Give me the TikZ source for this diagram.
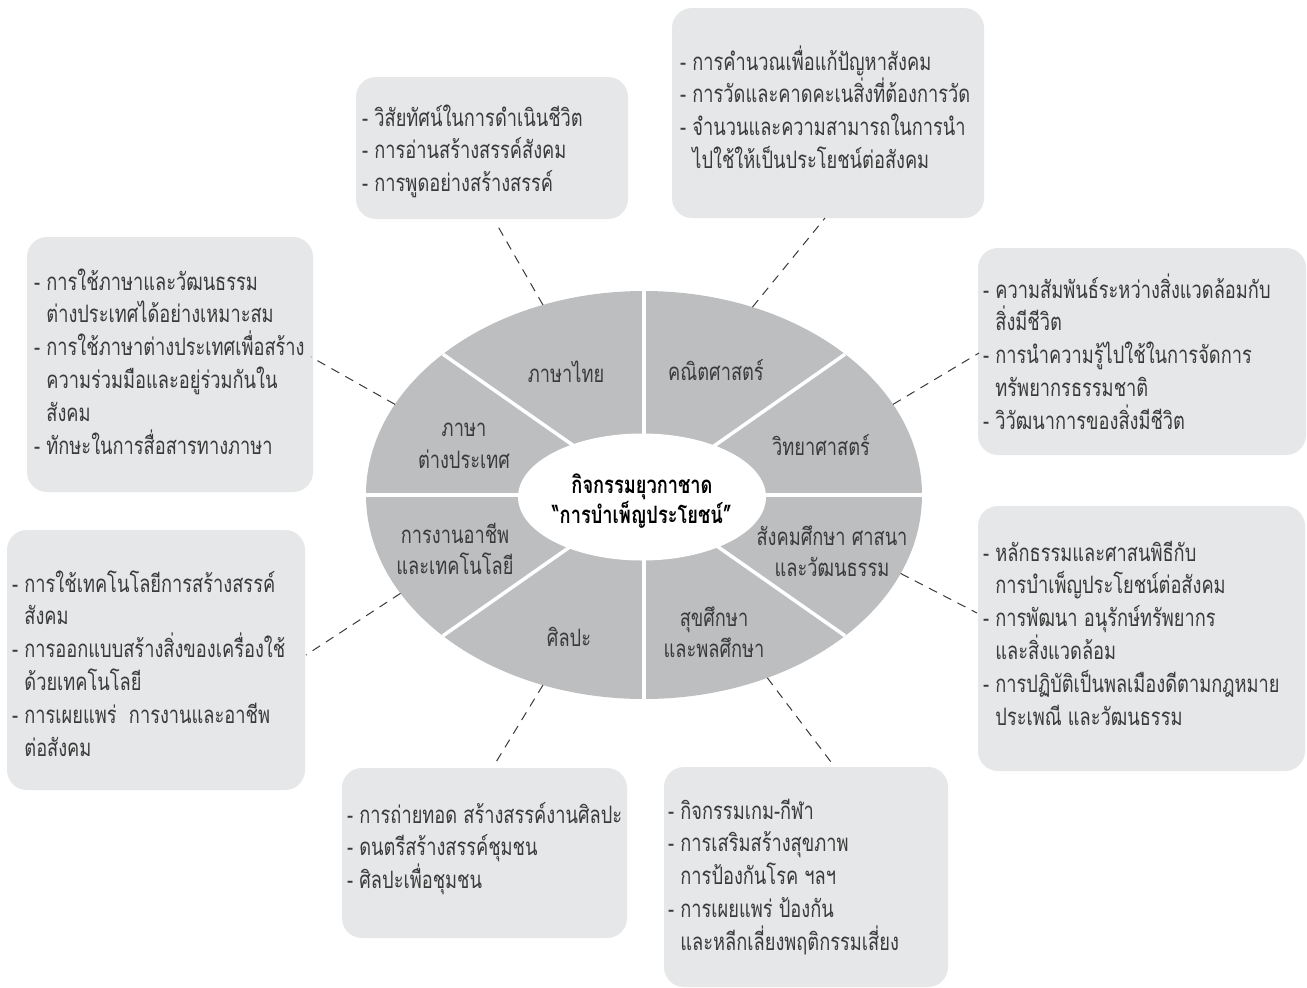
\documentclass[tikz,border=0pt]{standalone}
\usepackage{fontspec}
\newfontfamily\thaifont[Script=Thai,FakeStretch=0.76]{Loma}
\usetikzlibrary{shapes.geometric}
\definecolor{boxgray}{HTML}{E6E7E8}
\definecolor{ringgray}{HTML}{BCBEC0}
\definecolor{txt}{HTML}{3A3A3A}
\newcommand\tlines[1]{\vtop{\baselineskip=32.8pt\lineskiplimit=-100pt\lineskip=0pt\halign{##\hfil\cr #1\crcr}}}
\newcommand\ind{\hphantom{- }}
\tikzset{
  box/.style={fill=boxgray, rounded corners=20pt, inner sep=0pt, outer sep=0pt, anchor=north west},
  boxtext/.style={anchor=base west, inner sep=0pt, text=txt, font=\thaifont\fontsize{24}{32.8}\selectfont},
  sector/.style={align=center, inner sep=0pt, text=txt, font=\thaifont\fontsize{24}{31.5}\selectfont},
  conn/.style={draw=txt, line width=1pt, dash pattern=on 9pt off 7pt},
  divider/.style={draw=white, line width=3.5pt},
}
\begin{document}
\begin{tikzpicture}[x=1pt,y=-1pt]
\useasboundingbox (0,0) rectangle (1307,988);
\fill[white] (0,0) rectangle (1307,988);

% boxes
\node[box, minimum width=272pt, minimum height=142pt] (b1) at (356,77) {};
\node[box, minimum width=312pt, minimum height=210pt] (b2) at (672,8) {};
\node[box, minimum width=286pt, minimum height=255pt] (b3) at (27,237) {};
\node[box, minimum width=328pt, minimum height=207pt] (b4) at (978,248) {};
\node[box, minimum width=298pt, minimum height=260pt] (b5) at (7,530) {};
\node[box, minimum width=327pt, minimum height=265pt] (b6) at (978,506) {};
\node[box, minimum width=285pt, minimum height=170pt] (b7) at (342,768) {};
\node[box, minimum width=284pt, minimum height=220pt] (b8) at (664,767) {};

% box texts
\node[boxtext] (t1) at (362,126) {\tlines{- วิสัยทัศน์ในการดำเนินชีวิต\cr - การอ่านสร้างสรรค์สังคม\cr - การพูดอย่างสร้างสรรค์}};
\node[boxtext] (t2) at (680,70) {\tlines{- การคำนวณเพื่อแก้ปัญหาสังคม\cr - การวัดและคาดคะเนสิ่งที่ต้องการวัด\cr - จำนวนและความสามารถในการนำ\cr \ind ไปใช้ให้เป็นประโยชน์ต่อสังคม}};
\node[boxtext] (t3) at (34,290) {\tlines{- การใช้ภาษาและวัฒนธรรม\cr \ind ต่างประเทศได้อย่างเหมาะสม\cr - การใช้ภาษาต่างประเทศเพื่อสร้าง\cr \ind ความร่วมมือและอยู่ร่วมกันใน\cr \ind สังคม\cr - ทักษะในการสื่อสารทางภาษา}};
\node[boxtext] (t4) at (983,298) {\tlines{- ความสัมพันธ์ระหว่างสิ่งแวดล้อมกับ\cr \ind สิ่งมีชีวิต\cr - การนำความรู้ไปใช้ในการจัดการ\cr \ind ทรัพยากรธรรมชาติ\cr - วิวัฒนาการของสิ่งมีชีวิต}};
\node[boxtext] (t5) at (12,592) {\tlines{- การใช้เทคโนโลยีการสร้างสรรค์\cr \ind สังคม\cr - การออกแบบสร้างสิ่งของเครื่องใช้\cr \ind ด้วยเทคโนโลยี\cr - การเผยแพร่~ การงานและอาชีพ\cr \ind ต่อสังคม}};
\node[boxtext] (t6) at (983,561) {\tlines{- หลักธรรมและศาสนพิธีกับ\cr \ind การบำเพ็ญประโยชน์ต่อสังคม\cr - การพัฒนา อนุรักษ์ทรัพยากร\cr \ind และสิ่งแวดล้อม\cr - การปฏิบัติเป็นพลเมืองดีตามกฎหมาย\cr \ind ประเพณี และวัฒนธรรม}};
\node[boxtext] (t7) at (347,823) {\tlines{- การถ่ายทอด สร้างสรรค์งานศิลปะ\cr - ดนตรีสร้างสรรค์ชุมชน\cr - ศิลปะเพื่อชุมชน}};
\node[boxtext] (t8) at (668,819) {\tlines{- กิจกรรมเกม-กีฬา\cr - การเสริมสร้างสุขภาพ\cr \ind การป้องกันโรค ฯลฯ\cr - การเผยแพร่ ป้องกัน\cr \ind และหลีกเลี่ยงพฤติกรรมเสี่ยง}};

% ring
\node[ellipse, fill=ringgray, minimum width=556pt, minimum height=408pt, inner sep=0pt, outer sep=0pt] (ring) at (644,495) {};
\foreach \a in {0,35,90,145,180,215,270,325}
  \draw[divider] (ring.center) -- (ring.\a);
\node[ellipse, fill=white, minimum width=248pt, minimum height=127pt, inner sep=0pt, outer sep=0pt] (hub) at (642,497) {};
\node[align=center, inner sep=0pt, font=\thaifont\bfseries\fontsize{24}{28}\selectfont] (hubtext) at (642,501) {กิจกรรมยุวกาชาด\\“การบำเพ็ญประโยชน์”};

% sector labels
\node[sector] (s1) at (566,372) {ภาษาไทย};
\node[sector] (s2) at (716,370) {คณิตศาสตร์};
\node[sector] (s3) at (821,445) {วิทยาศาสตร์};
\node[sector] (s4) at (464,446) {ภาษา\\ต่างประเทศ};
\node[sector] (s5) at (455,549) {การงานอาชีพ\\และเทคโนโลยี};
\node[sector] (s6) at (569,637) {ศิลปะ};
\node[sector] (s7) at (714,632) {สุขศึกษา\\และพลศึกษา};
\node[sector] (s8) at (832,551) {สังคมศึกษา ศาสนา\\และวัฒนธรรม};

% connector ends at boxes
\coordinate (k1) at (496,223);
\coordinate (k2) at (825,218);
\coordinate (k3) at (311,357);
\coordinate (k4) at (979,353);
\coordinate (k5) at (306,655);
\coordinate (k6) at (977,613);
\coordinate (k7) at (493,767);
\coordinate (k8) at (834,766);

\draw[conn] (ring.118) -- (k1);
\draw[conn] (ring.60.4) -- (k2);
\draw[conn] (ring.160.3) -- (k3);
\draw[conn] (ring.20.4) -- (k4);
\draw[conn] (ring.202.8) -- (k5);
\draw[conn] (ring.343.3) -- (k6);
\draw[conn] (ring.242.7) -- (k7);
\draw[conn] (ring.304) -- (k8);
\end{tikzpicture}
\end{document}
